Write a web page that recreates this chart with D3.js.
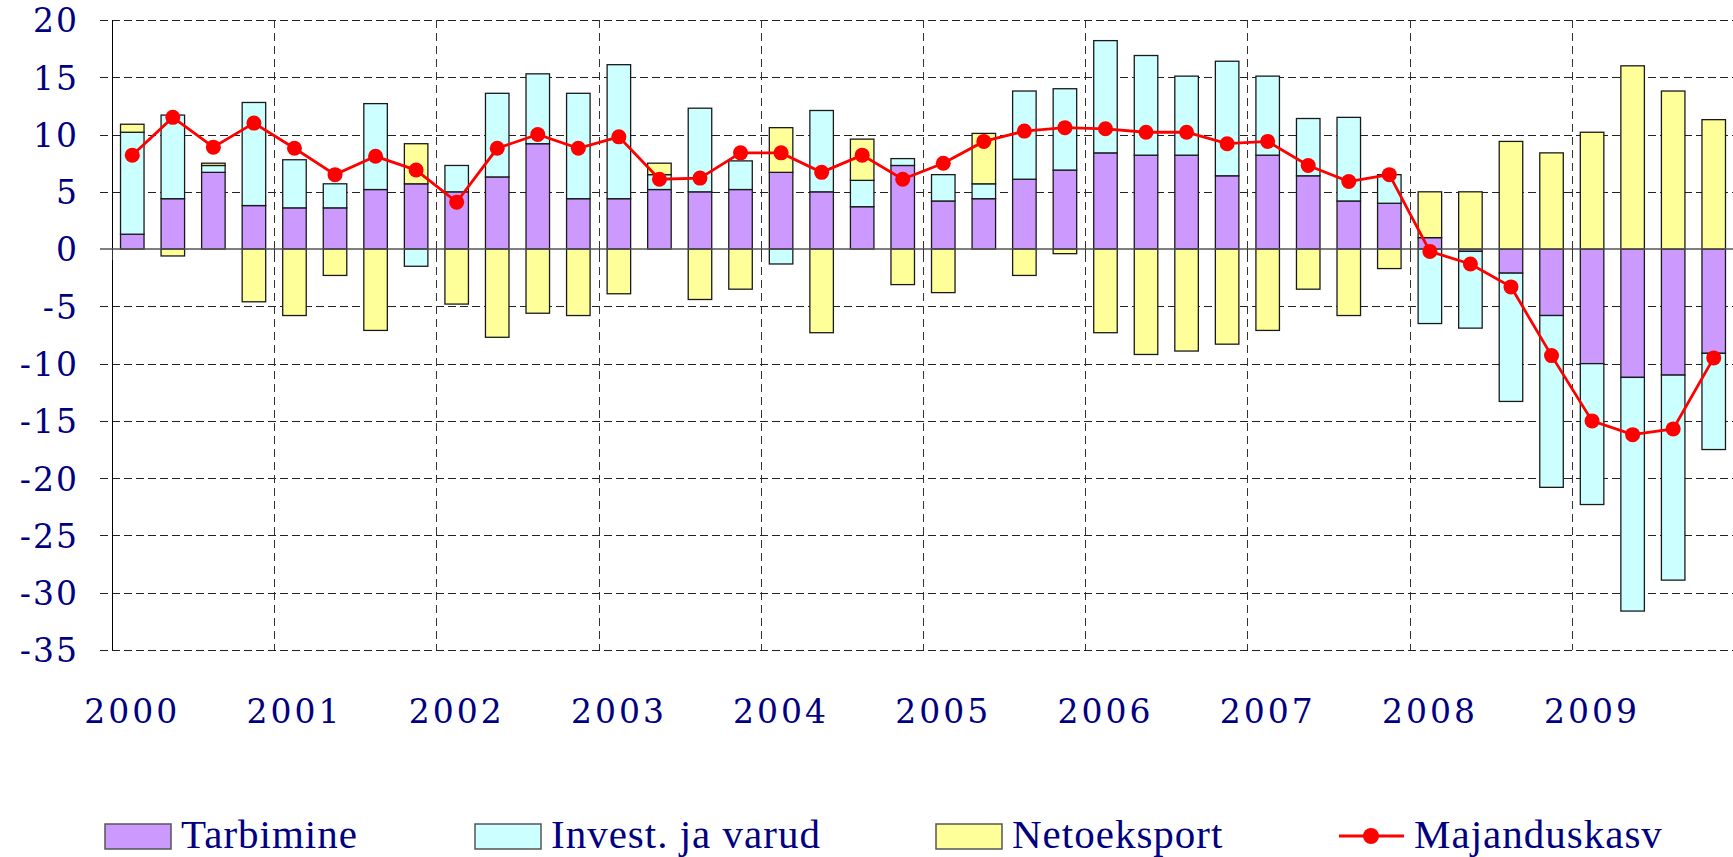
<!DOCTYPE html>
<html>
<head>
<meta charset="utf-8">
<script src="https://cdn.jsdelivr.net/npm/d3@7"></script>
<style>
  body { margin: 0; background: #fff; }
  svg { display: block; }
</style>
</head>
<body>
<svg width="1733" height="857"></svg>
<script>
// quarterly data 2000 I .. 2009 IV
var years = ['2000','2001','2002','2003','2004','2005','2006','2007','2008','2009'];
var quarters = [];
years.forEach(function(y){ ['I','II','III','IV'].forEach(function(q){ quarters.push(y + ' ' + q); }); });

var tarbimine = [1.3, 4.4, 6.7, 3.8, 3.6, 3.6, 5.2, 5.7, 5.0, 6.3, 9.2, 4.4,
                 4.4, 5.2, 5.0, 5.2, 6.7, 5.0, 3.7, 7.3, 4.2, 4.4, 6.1, 6.9,
                 8.4, 8.2, 8.2, 6.4, 8.2, 6.4, 4.2, 4.0, 1.0, -0.2, -2.1, -5.8,
                 -10.0, -11.2, -11.0, -9.1];
var invest    = [8.9, 7.3, 0.6, 9.0, 4.2, 2.1, 7.5, -1.5, 2.3, 7.3, 6.1, 9.2,
                 11.7, 1.3, 7.3, 2.5, -1.3, 7.1, 2.3, 0.6, 2.3, 1.3, 7.7, 7.1,
                 9.8, 8.7, 6.9, 10.0, 6.9, 5.0, 7.3, 2.5, -6.5, -6.7, -11.2, -15.0,
                 -12.3, -20.4, -17.9, -8.4];
var neto      = [0.7, -0.6, 0.2, -4.6, -5.8, -2.3, -7.1, 3.5, -4.8, -7.7, -5.6, -5.8,
                 -3.9, 1.0, -4.4, -3.5, 3.9, -7.3, 3.6, -3.1, -3.8, 4.4, -2.3, -0.4,
                 -7.3, -9.2, -8.9, -8.3, -7.1, -3.5, -5.8, -1.7, 4.0, 5.0, 9.4, 8.4,
                 10.2, 16.0, 13.8, 11.3];
var kasv      = [8.2, 11.5, 8.9, 11.0, 8.8, 6.5, 8.1, 6.9, 4.1, 8.8, 10.0, 8.8,
                 9.8, 6.1, 6.2, 8.4, 8.4, 6.7, 8.2, 6.1, 7.5, 9.4, 10.3, 10.6,
                 10.5, 10.2, 10.2, 9.2, 9.4, 7.3, 5.9, 6.5, -0.2, -1.3, -3.3, -9.3,
                 -15.0, -16.2, -15.7, -9.5];
var yTicks = [20, 15, 10, 5, 0, -5, -10, -15, -20, -25, -30, -35];

var seriesNames = ['Tarbimine', 'Invest. ja varud', 'Netoeksport'];
var colors = ['#cc99ff', '#ccffff', '#ffff99'];
var textColor = '#000080';

var svg = d3.select('svg');
var plotLeft = 112, plotRight = 1734, plotTop = 20, plotBottom = 650;

var x = d3.scaleBand().domain(quarters).range([plotLeft, plotRight])
    .paddingInner(0.42).paddingOuter(0.21);
var y = d3.scaleLinear().domain([-35, 20]).range([plotBottom, plotTop]);

function yearEdge(yr){
  return Math.round(x(yr + ' I') - x.step() * 0.21) + 0.5;
}

// table for stacking
var rows = quarters.map(function(q, i){
  return {q: q, 'Tarbimine': tarbimine[i], 'Invest. ja varud': invest[i], 'Netoeksport': neto[i]};
});
var stacked = d3.stack().keys(seriesNames).offset(d3.stackOffsetDiverging)(rows);

// horizontal gridlines
svg.append('g').selectAll('line').data(yTicks.filter(function(t){ return t !== 0; }))
  .enter().append('line')
    .attr('x1', 100).attr('x2', 1733)
    .attr('y1', function(d){ return Math.round(y(d)) + 0.5; })
    .attr('y2', function(d){ return Math.round(y(d)) + 0.5; })
    .attr('stroke', '#222')
    .attr('stroke-dasharray', '8,4');

// vertical gridlines at year boundaries
svg.append('g').selectAll('line').data(years.slice(1))
  .enter().append('line')
    .attr('x1', yearEdge).attr('x2', yearEdge)
    .attr('y1', plotTop).attr('y2', plotBottom)
    .attr('stroke', '#333')
    .attr('stroke-dasharray', '8,5');

// left axis line
svg.append('line')
  .attr('x1', plotLeft + 0.5).attr('x2', plotLeft + 0.5)
  .attr('y1', plotTop).attr('y2', plotBottom)
  .attr('stroke', '#000');

// bars
svg.append('g').selectAll('g').data(stacked)
  .enter().append('g')
    .attr('fill', function(d, i){ return colors[i]; })
  .selectAll('rect').data(function(d){ return d; })
  .enter().append('rect')
    .attr('x', function(d){ return x(d.data.q); })
    .attr('width', x.bandwidth())
    .attr('y', function(d){ return y(Math.max(d[0], d[1])); })
    .attr('height', function(d){ return Math.abs(y(d[0]) - y(d[1])); })
    .attr('stroke', '#1a1a1a')
    .attr('stroke-width', 1.3);

// zero line
svg.append('line')
  .attr('x1', 100).attr('x2', 1733)
  .attr('y1', y(0)).attr('y2', y(0))
  .attr('stroke', '#555')
  .attr('stroke-width', 1.5);

// year tick marks on the zero line
svg.append('g').selectAll('line').data(years)
  .enter().append('line')
    .attr('x1', yearEdge).attr('x2', yearEdge)
    .attr('y1', y(0)).attr('y2', y(0) + 11)
    .attr('stroke', '#333');

// y axis labels (plain hyphen for negatives, as in the original)
var yAxis = svg.append('g')
  .attr('transform', 'translate(' + plotLeft + ',0)')
  .call(d3.axisLeft(y).tickValues(yTicks).tickSize(0).tickPadding(33)
    .tickFormat(function(d){ return String(d); }));
yAxis.select('.domain').remove();
yAxis.selectAll('text')
  .attr('fill', textColor)
  .style('font-family', '"DejaVu Serif", serif')
  .style('font-size', '33px')
  .style('letter-spacing', '2px')
  .attr('dy', '0.36em');

// x axis labels (one per year, on first quarter)
var xAxis = svg.append('g')
  .attr('transform', 'translate(0,' + plotBottom + ')')
  .call(d3.axisBottom(x)
    .tickValues(years.map(function(yr){ return yr + ' I'; }))
    .tickSize(0).tickPadding(50)
    .tickFormat(function(d){ return d.slice(0, 4); }));
xAxis.select('.domain').remove();
xAxis.selectAll('text')
  .attr('fill', textColor)
  .style('font-family', '"DejaVu Serif", serif')
  .style('font-size', '33px')
  .style('letter-spacing', '3px');

// growth line
var line = d3.line()
  .x(function(d, i){ return x(quarters[i]) + x.bandwidth() / 2; })
  .y(function(d){ return y(d); });
svg.append('path')
  .datum(kasv)
  .attr('d', line)
  .attr('fill', 'none')
  .attr('stroke', '#ff0000')
  .attr('stroke-width', 2.8);
svg.append('g').selectAll('circle').data(kasv)
  .enter().append('circle')
    .attr('cx', function(d, i){ return x(quarters[i]) + x.bandwidth() / 2; })
    .attr('cy', function(d){ return y(d); })
    .attr('r', 7.5)
    .attr('fill', '#ff0000');

// legend
var legendFont = '"Liberation Serif", "Times New Roman", serif';
var swatchX = [105, 475, 936];
seriesNames.forEach(function(name, i){
  svg.append('rect')
    .attr('x', swatchX[i]).attr('y', 824)
    .attr('width', 66).attr('height', 25)
    .attr('fill', colors[i])
    .attr('stroke', '#555')
    .attr('stroke-width', 1.5);
  svg.append('text')
    .attr('x', swatchX[i] + 76).attr('y', 848)
    .attr('fill', textColor)
    .style('font-family', legendFont)
    .style('font-size', '41px')
    .style('letter-spacing', '1px')
    .text(name);
});
svg.append('line')
  .attr('x1', 1339).attr('x2', 1404)
  .attr('y1', 836).attr('y2', 836)
  .attr('stroke', '#ff0000').attr('stroke-width', 2.8);
svg.append('circle')
  .attr('cx', 1371).attr('cy', 836).attr('r', 8)
  .attr('fill', '#ff0000');
svg.append('text')
  .attr('x', 1414).attr('y', 848)
  .attr('fill', textColor)
  .style('font-family', legendFont)
  .style('font-size', '41px')
  .style('letter-spacing', '1px')
  .text('Majanduskasv');
</script>
</body>
</html>
